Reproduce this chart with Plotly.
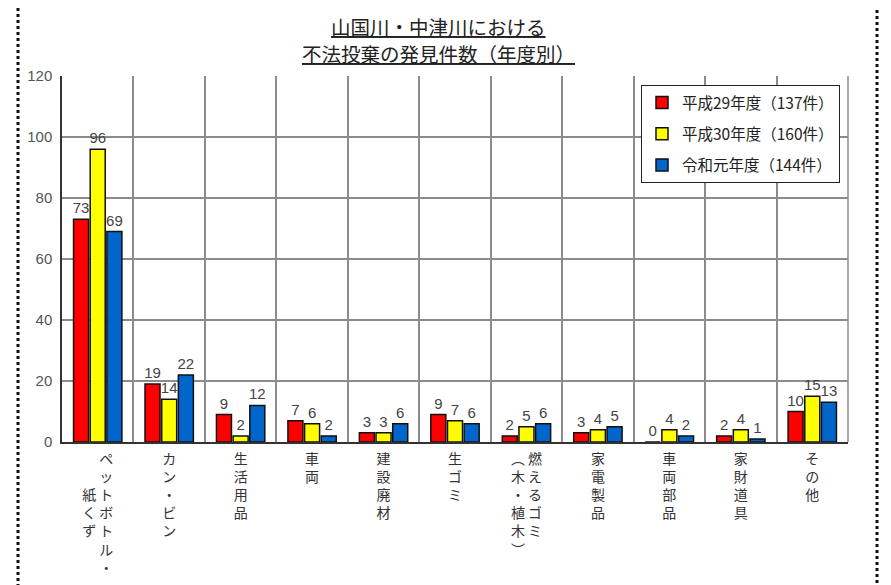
import plotly.graph_objects as go

categories = [
    "ペットボトル・紙くず", "カン・ビン", "生活用品", "車両", "建設廃材", "生ゴミ",
    "燃えるゴミ（木・植木）", "家電製品", "車両部品", "家財道具", "その他",
]
# vertical (top-to-bottom) label layout, one row per line
tick_labels = [
    "　 ペ<br>　 ッ<br>紙 ト<br>く ボ<br>ず ト<br>　 ル<br>　 ・",
    "カ<br>ン<br>・<br>ビ<br>ン",
    "生<br>活<br>用<br>品",
    "車<br>両",
    "建<br>設<br>廃<br>材",
    "生<br>ゴ<br>ミ",
    "︵ 燃<br>木 え<br>・ る<br>植 ゴ<br>木 ミ<br>︶ 　",
    "家<br>電<br>製<br>品",
    "車<br>両<br>部<br>品",
    "家<br>財<br>道<br>具",
    "そ<br>の<br>他",
]
series_names = ["平成29年度（137件）", "平成30年度（160件）", "令和元年度（144件）"]
h29 = [73, 19, 9, 7, 3, 9, 2, 3, 0, 2, 10]
h30 = [96, 14, 2, 6, 3, 7, 5, 4, 4, 4, 15]
r1 = [69, 22, 12, 2, 6, 6, 6, 5, 2, 1, 13]
colors = ["#FF0000", "#FFFF00", "#0066CC"]
title_lines = ["山国川・中津川における", "不法投棄の発見件数（年度別）"]

JP = "Noto Sans CJK JP"
OFF = 8  # page body margin of the html page
fig = go.Figure()
for i, (name, vals) in enumerate(zip(series_names, [h29, h30, r1])):
    fig.add_trace(go.Bar(
        x=categories, y=vals, name=name, legendgroup=f"g{i}",
        marker=dict(color=colors[i], line=dict(color="#111", width=1.5)),
        text=[str(v) for v in vals], textposition="outside",
        textfont=dict(family="Liberation Sans", size=15, color="#444"),
        constraintext="none", cliponaxis=False,
    ))

L, T, R, B = 62 - OFF, 76 - OFF, 848 - OFF, 442 - OFF
W, H = 891 - OFF, 585 - OFF
pw, ph = R - L, B - T


def px(x):
    return (x - OFF - L) / pw


def py(y):
    return (B - (y - OFF)) / ph


fig.update_layout(
    width=W, height=H,
    margin=dict(l=L, r=W - R, t=T, b=H - B, autoexpand=False),
    paper_bgcolor="white", plot_bgcolor="white",
    barmode="group", bargap=0.3, bargroupgap=0.1,
    font=dict(family=JP, color="#333"),
    showlegend=True,
    legend=dict(
        x=px(641), y=py(85), xanchor="left", yanchor="top",
        bgcolor="white", bordercolor="#222", borderwidth=1,
        font=dict(family=JP, size=15.5, color="#222"),
        tracegroupgap=8, itemclick=False, itemwidth=30,
    ),
    xaxis=dict(
        type="category", tickson="boundaries", showgrid=True,
        gridcolor="#8c8c8c", gridwidth=1.5,
        tickmode="array", tickvals=categories, ticktext=tick_labels,
        ticks="", ticklabelstandoff=3,
        tickfont=dict(family=JP, size=14, color="#333"),
        showline=True, linecolor="#333", linewidth=1.5, mirror=False,
        fixedrange=True, automargin=False,
    ),
    yaxis=dict(
        range=[0, 120], dtick=20, showgrid=True, gridcolor="#8c8c8c", gridwidth=1.5,
        tickfont=dict(family="Liberation Sans", size=15, color="#555"),
        showline=True, linecolor="#333", linewidth=1.5, zeroline=False,
        ticks="", ticklabelstandoff=5, automargin=False,
    ),
)
# right border of plot
fig.add_shape(type="line", xref="paper", yref="paper", x0=1, x1=1, y0=0, y1=1,
              line=dict(color="#8c8c8c", width=1.5))
# title
for k, yy in enumerate([27, 54]):
    fig.add_annotation(text="<u>" + title_lines[k] + "</u>", xref="paper", yref="paper",
                       x=px(438), y=py(yy), showarrow=False,
                       font=dict(family=JP, size=19.5, color="#222"), yanchor="middle")
# dotted outer frame
fig.add_shape(type="rect", xref="paper", yref="paper",
              x0=px(18), x1=px(877), y0=py(600), y1=py(5),
              line=dict(color="#111", width=3, dash="dot"))

fig.write_html("out.html")
